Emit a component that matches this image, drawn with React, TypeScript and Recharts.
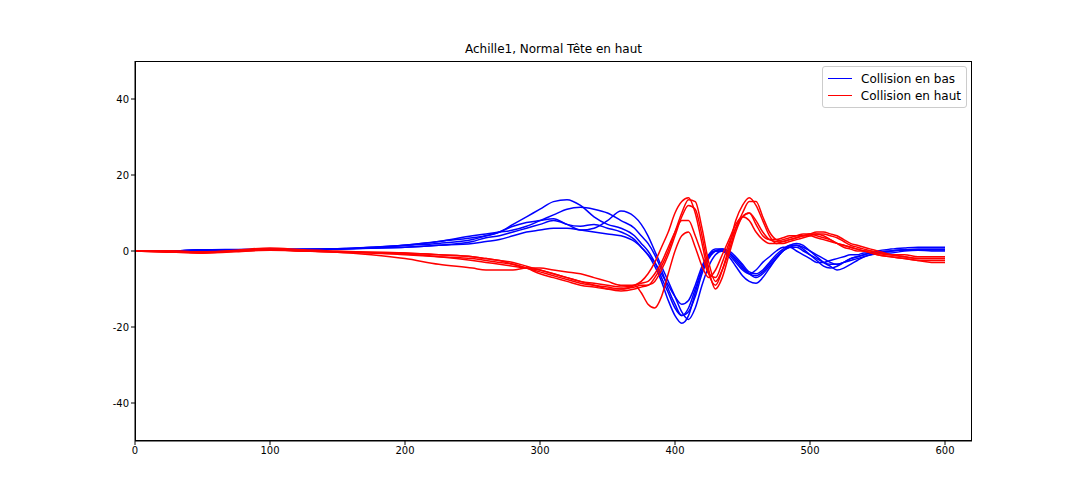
import { LineChart, Line, XAxis, YAxis } from "recharts";

const xs = [0, 25, 50, 75, 100, 125, 150, 175, 200, 225, 250, 260, 270, 280, 290, 300, 310, 320, 330, 340, 350, 360, 370,
  375, 380, 385, 390, 395, 400, 405, 410, 415, 420, 425, 430, 435, 440, 445, 450, 455, 460, 465, 470, 475, 480, 485, 490,
  495, 500, 505, 510, 515, 520, 525, 530, 535, 540, 545, 550, 560, 570, 580, 590, 600];

const blue = [
  [0, 0, 0.3, 0.2, 0.3, 0.4, 0.5, 1, 1.5, 2.5, 3.5,
    4, 5, 7, 9, 11, 13, 13.5, 12, 9, 7, 6, 4,
    2, 0, -3, -7, -11, -15, -17, -15, -10, -5, -1.5, 0, 0, -1, -3, -5, -6, -5, -3, -1.5, 0, 1, 1, 0, -1, -2, -3, -3, -2.5, -2, -1.5, -1, -1, -0.5, -0.5, -0.3,
    0, 0.3, 0.5, 0.5, 0.5],
  [0, 0, 0.2, 0.3, 0.4, 0.3, 0.5, 0.8, 1, 1.5, 2.5,
    3.5, 4, 5, 6, 7, 8, 7, 5.5, 6, 8, 10.5, 9,
    7, 4, 0, -4, -8, -12, -16, -18, -15, -9, -4, -1, 0, -0.5, -2, -4, -6, -7, -6, -4, -2, 0, 1, 1.5, 1, 0, -1, -2, -3, -3.5, -3, -2.5, -2, -1.5, -1, -0.8,
    0, 0.2, 0.3, 0.3, 0.3],
  [0, 0, 0.3, 0.4, 0.5, 0.5, 0.6, 0.8, 1.5, 2.5, 4,
    4.5, 5, 5.5, 6.5, 8, 9.5, 11, 11.5, 11, 10, 8, 6,
    4, 2, -1, -5, -10, -14, -17, -16, -12, -6, -2, 0, 0.5, 0, -1.5, -3.5, -5.5, -6, -5, -3, -1, 0.5, 1.5, 1.5, 0.5, -1, -2.5, -4, -4.5, -4, -3, -2, -1.5, -1, -0.5, 0,
    0.5, 0.8, 1, 1, 1],
  [0, 0, 0.2, 0.2, 0.3, 0.4, 0.5, 0.7, 1, 1.5, 2,
    2.5, 3, 4, 5, 5.5, 6, 6, 5.5, 5, 4.5, 4, 2.5,
    1, -1, -3, -6, -9, -12, -14, -13, -9, -4, -1, 0, 0, -1.5, -4, -6.5, -8, -8.5, -7, -4.5, -2, 0, 1, 1, 0, -1, -2, -3, -3.5, -3.5, -3, -2, -1.5, -1, -0.5, -0.3,
    0, 0.3, 0.3, 0.3, 0.3],
  [0, 0, 0.3, 0.3, 0.2, 0.4, 0.6, 1, 1.5, 2, 3,
    4, 5, 6.5, 7.5, 8, 8.5, 7, 6.5, 7, 6, 5, 3,
    1, -1, -4, -8, -13, -17, -19, -17, -11, -5, -1, 0.5, 0.5, -0.5, -2.5, -4.5, -6, -6.5, -5.5, -3.5, -1.5, 0, 1.5, 2, 1.5, 0, -1.5, -3, -4, -5, -4.5, -3.5, -2.5, -1.5, -1, -0.5,
    -0.5, 0, 0.2, 0, 0],
];

const red = [
  [0, -0.3, -0.5, 0, 0.5, 0, -0.3, -0.5, -1, -1.5, -2,
    -2.5, -3, -3.5, -4.5, -5.5, -6.5, -7.5, -8.5, -9, -9.5, -10, -9.5,
    -9, -9, -7, -4, 0, 5, 10, 13.5, 13, 6, -3, -8, -5, 0, 6, 10, 13, 13, 9, 5, 3, 2.5, 3, 3.5, 4, 4.5, 5, 5, 4.5, 4, 3, 2, 1.5, 1, 0.5, 0,
    -1, -1.5, -2, -2, -2],
  [0, 0, -0.5, 0, 0.3, 0, -0.3, -1, -2, -3.5, -4.5,
    -5, -5, -5, -4.5, -4.5, -5, -5.5, -6, -7, -8, -9, -9,
    -11, -14, -15, -12, -6, 0, 4, 5, 1, -4, -7, -5, -1, 3, 7, 9, 8, 5, 3, 2, 2, 2.5, 3, 3.5, 4, 4, 3.5, 3, 2.5, 2, 1.5, 1, 0.5, 0, -0.5, -1,
    -1.5, -2, -2.5, -3, -3],
  [0, 0, -0.3, 0.2, 0.8, 0.3, 0, -0.3, -0.5, -1, -1.5,
    -2, -2.5, -3, -4, -5, -6, -7, -8, -9, -10, -10.5, -10,
    -9.5, -9, -8, -5, -1, 4, 9, 12, 11, 4, -5, -10, -7, -1, 5, 9, 10, 8, 5, 3, 2.5, 3, 3.5, 4, 4.5, 4.5, 4, 3.5, 3, 2, 1, 0.5, 0, 0, -0.5, -1,
    -1.5, -2, -2.5, -2.5, -2.5],
  [0, -0.3, -0.5, -0.2, 0.3, 0, -0.2, -0.5, -0.8, -1.5, -2.5,
    -3, -3.5, -4, -4.5, -5, -6, -7, -8, -8.5, -9, -9.5, -9,
    -8.5, -8, -6, -3, 1, 5, 8, 8, 4, -1, -6, -7, -3, 2, 6, 9, 10, 7, 4, 3, 3, 3.5, 4, 4, 4, 4.5, 4.5, 4, 3, 2, 1.5, 1, 0.5, 0, 0, -0.5,
    -1, -1, -1.5, -1.5, -1.5],
  [0, 0, -0.2, 0, 0.2, 0, -0.2, -0.3, -0.5, -1, -1.5,
    -2, -2.5, -3.5, -4.5, -6, -7, -8, -9, -9.5, -10, -10, -9,
    -8, -6, -3, 1, 5, 10, 13, 14, 10, 2, -6, -9, -5, 1, 8, 12, 14, 12, 8, 4, 2, 2, 2.5, 3, 3.5, 4, 4.5, 4.5, 4, 3.5, 2.5, 1.5, 1, 0.5, 0, -0.5,
    -1, -1.5, -2, -2, -2],
];

const xTicks = [0, 100, 200, 300, 400, 500, 600];
const yTicks = [-40, -20, 0, 20, 40];
const legendItems = [["#0000ff", "Collision en bas"], ["#ff0000", "Collision en haut"]];

const rows = xs.map((x, i) => {
  const row: Record<string, number> = { x };
  blue.forEach((s, k) => (row["b" + k] = s[i]));
  red.forEach((s, k) => (row["r" + k] = s[i]));
  return row;
});

const tickStyle = { fontSize: 10, fill: "#000", fontFamily: "DejaVu Sans" };

export default function App() {
  return (
    <div style={{ margin: -8, position: "relative", width: 1080, height: 504, background: "#fff", fontFamily: "DejaVu Sans" }}>
      <div style={{ position: "absolute", top: 42, left: 135, width: 837, textAlign: "center", fontSize: 12 }}>
        Achille1, Normal Tête en haut
      </div>
      <LineChart width={1080} height={504} data={rows} margin={{ top: 61, left: 95, right: 108, bottom: 33 }}>
        <XAxis dataKey="x" type="number" domain={[0, 620]} ticks={xTicks} tick={tickStyle}
          stroke="#000" tickSize={4} height={30} />
        <YAxis domain={[-50, 50]} ticks={yTicks} tick={tickStyle} stroke="#000" tickSize={4} width={40} />
        {blue.map((_, k) => (
          <Line key={"b" + k} dataKey={"b" + k} stroke="#0000ff" strokeWidth={1.5} dot={false}
            type="monotone" isAnimationActive={false} />
        ))}
        {red.map((_, k) => (
          <Line key={"r" + k} dataKey={"r" + k} stroke="#ff0000" strokeWidth={1.5} dot={false}
            type="monotone" isAnimationActive={false} />
        ))}
      </LineChart>
      {/* frame around the plot area */}
      <div style={{ position: "absolute", left: 135, top: 61, width: 837, height: 380, border: "1px solid #000",
        boxSizing: "border-box", pointerEvents: "none" }} />
      <div style={{ position: "absolute", left: 822, top: 66, width: 145, height: 42, border: "1px solid #ccc",
        borderRadius: 3, background: "rgba(255,255,255,0.8)", fontSize: 12, boxSizing: "border-box", padding: "3px 5px",
        whiteSpace: "nowrap" }}>
        {legendItems.map(([c, t]) => (
          <div key={t} style={{ display: "flex", alignItems: "center", height: 17 }}>
            <span style={{ display: "inline-block", width: 24, height: 1.5, background: c, marginRight: 9 }} />
            {t}
          </div>
        ))}
      </div>
    </div>
  );
}
